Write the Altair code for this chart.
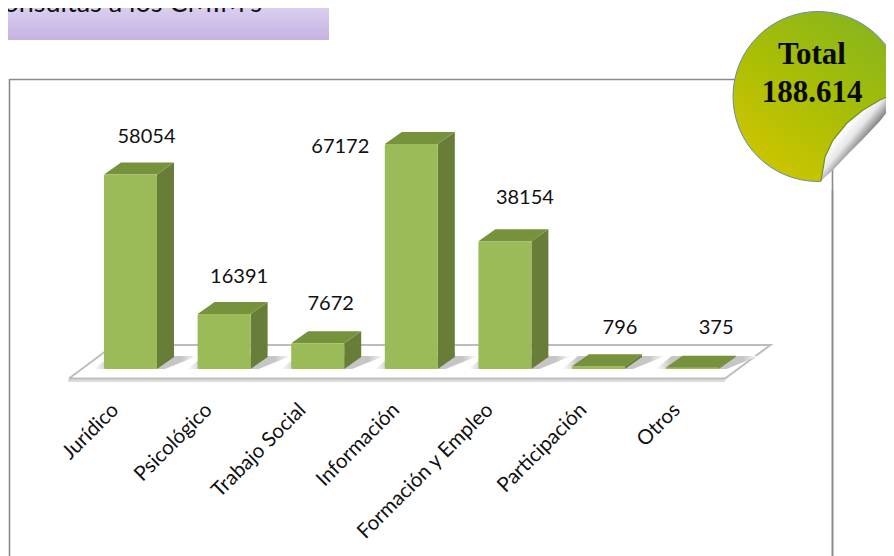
import altair as alt
import pandas as pd

categories = ["Jurídico", "Psicológico", "Trabajo Social", "Información",
              "Formación y Empleo", "Participación", "Otros"]
values = [58054, 16391, 7672, 67172, 38154, 796, 375]
banner_text = "Consultas a los CMIM's"
badge_lines = ["Total", "188.614"]

# ---- layout (page pixels; the chart starts at page 8,8) ----
W, H = 878, 548
STEP = 93.6
X0 = 130.5          # centre of first bar
Y0 = 369            # baseline of value 0
K = 67172 / 225     # value units per pixel
BAR = 53
DX, DY = 17, 12     # depth of the 3D faces
label_nudge_x = [16, 15, 13, -71, 20, 21.5, 24]
label_nudge_y = [38, 37, 39, -3, 43, 38, 40]


def ix(px):
    return (px - X0) / STEP


def iy(py):
    return (Y0 - py) * K


xs = alt.Scale(domain=[ix(8), ix(8 + W)], nice=False, zero=False)
ys = alt.Scale(domain=[iy(8 + H), iy(8)], nice=False, zero=False)
X = lambda f: alt.X(f, type="quantitative", scale=xs, axis=None)
Y = lambda f: alt.Y(f, type="quantitative", scale=ys, axis=None)

half, ddx, ddy = BAR / 2 / STEP, DX / STEP, DY * K

bars = pd.DataFrame({"cat": categories, "v": values})
bars["i"] = range(len(bars))
bars["l"] = bars.i - half
bars["r"] = bars.i + half
bars["zero"] = 0

side = pd.concat([
    bars.assign(sx=bars.r, sy=bars.v, sy2=0),
    bars.assign(sx=bars.r + ddx, sy=bars.v + ddy, sy2=ddy),
])
top = pd.concat([
    bars.assign(ty=bars.v, tx=bars.l, tx2=bars.r),
    bars.assign(ty=bars.v + ddy, tx=bars.l + ddx, tx2=bars.r + ddx),
])
shadow = pd.concat([
    bars.assign(ty=0.0, tx=bars.l - 10 / STEP, tx2=bars.r + 8 / STEP),
    bars.assign(ty=ddy + 1 * K, tx=bars.l + 6 / STEP, tx2=bars.r + 40 / STEP),
])
floor = pd.DataFrame({
    "fy": [iy(378.5), iy(345)],
    "fx": [ix(69), ix(114)],
    "fx2": [ix(725), ix(770.5)],
})
floor_edge = pd.DataFrame({
    "x": [ix(69), ix(114), ix(770.5), ix(725), ix(69)],
    "y": [iy(378.5), iy(345), iy(345), iy(378.5), iy(378.5)],
    "o": [0, 1, 2, 3, 4],
})
floor_shadow = pd.DataFrame({"x": [ix(68)], "x2": [ix(725)], "y": [iy(380.5)]})

value_labels = bars.assign(
    lx=bars.i + pd.Series(label_nudge_x) / STEP,
    ly=bars.v + pd.Series(label_nudge_y) * K,
)
cat_labels = bars.assign(lx=bars.i - 15 / STEP, ly=iy(407))

floor_lay = alt.Chart(floor).mark_area(orient="horizontal", color="white").encode(
    x=X("fx"), x2="fx2", y=Y("fy"))
floor_sh = alt.Chart(floor_shadow).mark_rule(color="#dcdcdc", strokeWidth=3).encode(
    x=X("x"), x2="x2", y=Y("y"))
floor_ln = alt.Chart(floor_edge).mark_line(color="#bdbdbd", strokeWidth=2).encode(
    x=X("x"), y=Y("y"), order="o:Q")

shadow_lay = alt.Chart(shadow).mark_area(
    orient="horizontal",
    fill=alt.Gradient(gradient="linear", x1=0, y1=0, x2=1, y2=0,
                      stops=[alt.GradientStop(offset=0, color="#ffffff"),
                             alt.GradientStop(offset=0.15, color="#c6c6c6"),
                             alt.GradientStop(offset=0.85, color="#c6c6c6"),
                             alt.GradientStop(offset=1, color="#ffffff")]),
).encode(x=X("tx"), x2="tx2", y=Y("ty"), detail="cat:N")

side_lay = alt.Chart(side).mark_area(color="#677d38").encode(
    x=X("sx"), y=Y("sy"), y2="sy2", detail="cat:N")
top_lay = alt.Chart(top).mark_area(orient="horizontal", color="#76923c").encode(
    x=X("tx"), x2="tx2", y=Y("ty"), detail="cat:N")
front_lay = alt.Chart(bars).mark_rect(color="#9bbb59", cornerRadius=1.5).encode(
    x=X("l"), x2="r", y=Y("v"), y2="zero")

value_text = alt.Chart(value_labels).mark_text(
    font="Lato", fontSize=20, color="#111111", baseline="middle", align="center"
).encode(x=X("lx"), y=Y("ly"), text="v:Q")
cat_text = alt.Chart(cat_labels).mark_text(
    font="Lato", fontSize=20.5, color="#111111", baseline="middle", align="right", angle=315
).encode(x=X("lx"), y=Y("ly"), text="cat:N")

# ---- decoration ----
dummy = pd.DataFrame({"a": [0]})
frame = alt.Chart(dummy).mark_rect(fill="white", stroke="#8c8c8c", strokeWidth=1.6).encode(
    x=alt.value(1.5), x2=alt.value(824.5), y=alt.value(71.5), y2=alt.value(600))
banner = alt.Chart(dummy).mark_rect(
    fill=alt.Gradient(gradient="linear", x1=0, y1=0, x2=0, y2=1,
                      stops=[alt.GradientStop(offset=0, color="#e0d5f2"),
                             alt.GradientStop(offset=1, color="#c5b2e2")]),
).encode(x=alt.value(-8), x2=alt.value(321), y=alt.value(-8), y2=alt.value(32))
banner_t = alt.Chart(pd.DataFrame({"t": [banner_text]})).mark_text(
    font="Lato", fontSize=27, color="#111111", align="right", baseline="alphabetic"
).encode(x=alt.value(254), y=alt.value(4), text="t:N")

badge = alt.Chart(dummy).mark_point(
    filled=True, opacity=1, size=170 ** 2, shape="circle",
    fill=alt.Gradient(gradient="linear", x1=0.85, y1=0.05, x2=0.25, y2=0.9,
                      stops=[alt.GradientStop(offset=0, color="#86b51e"),
                             alt.GradientStop(offset=0.55, color="#a9be05"),
                             alt.GradientStop(offset=1, color="#c9c400")]),
    stroke="#5f8fa8", strokeWidth=1,
).encode(x=alt.value(810), y=alt.value(88.5))

curl_x = [821, 825, 833, 847, 863, 880, 894]
curl_up = [181, 157, 140, 123, 110, 100, 94]
curl_lo = [181, 177, 170, 155, 139, 121, 103]
curl = pd.DataFrame({
    "x": [ix(v) for v in curl_x],
    "up": [iy(v) for v in curl_up],
    "lo": [iy(v) for v in curl_lo],
    "bottom": iy(190),
})
cover = alt.Chart(curl).mark_area(color="white").encode(x=X("x"), y=Y("up"), y2="bottom")
frame_tail = alt.Chart(dummy).mark_rule(color="#8c8c8c", strokeWidth=1.6).encode(
    x=alt.value(824.5), y=alt.value(150), y2=alt.value(600))
leaf = alt.Chart(curl).mark_area(
    fill=alt.Gradient(gradient="linear", x1=0, y1=0, x2=1, y2=1,
                      stops=[alt.GradientStop(offset=0.2, color="#f0f0f0"),
                             alt.GradientStop(offset=0.36, color="#ffffff"),
                             alt.GradientStop(offset=0.46, color="#e6e6e6"),
                             alt.GradientStop(offset=0.56, color="#808080")]),
).encode(x=X("x"), y=Y("up"), y2="lo")
curl_edge = alt.Chart(curl).mark_line(color="#6f8f1e", strokeWidth=1.2).encode(
    x=X("x"), y=Y("up"))


def badge_line(text, baseline_y):
    return alt.Chart(pd.DataFrame({"t": [text]})).mark_text(
        font="Liberation Serif", fontWeight="bold", fontSize=31, color="#0a0a0a",
        align="center", baseline="alphabetic",
    ).encode(x=alt.value(804), y=alt.value(baseline_y), text="t:N")


chart = alt.layer(
    frame, floor_lay, floor_sh, floor_ln, shadow_lay,
    side_lay, top_lay, front_lay, value_text, cat_text,
    banner, banner_t, badge, cover, frame_tail, leaf, curl_edge,
    badge_line(badge_lines[0], 56), badge_line(badge_lines[1], 94),
).properties(
    width=W, height=H, padding=0, autosize="none", background="white"
).configure_view(stroke=None)

chart.save("out.html", embed_options={"renderer": "svg", "actions": False})
